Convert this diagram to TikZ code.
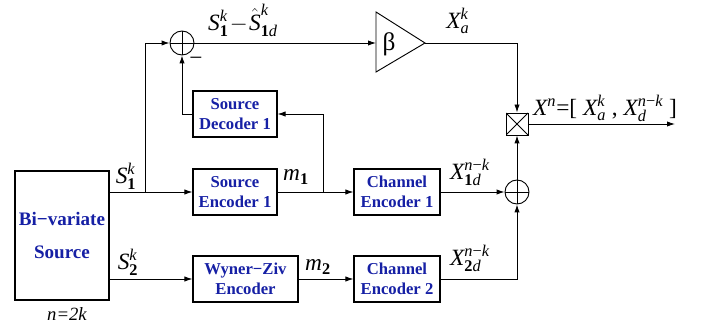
\documentclass[tikz,border=0pt]{standalone}
\usepackage{amsmath}
\usepackage{fontspec}
\setmainfont{Liberation Serif}
\usetikzlibrary{arrows.meta}
\definecolor{blkblue}{RGB}{22,32,165}
\newcommand\ti[1]{\text{\itshape #1}}
\newcommand\tb[1]{\text{\bfseries #1}}
\begin{document}
\begin{tikzpicture}[x=0.75pt,y=-0.75pt,line width=0.7pt,
  box/.style={draw, line width=0.8pt, fill=white, font=\fontsize{12.5}{15}\selectfont\bfseries, text=blkblue, align=center, inner sep=0pt},
  lab/.style={font=\fontsize{17.5}{20}\selectfont, inner sep=0pt},
  sumnode/.style={draw, circle, minimum size=24*0.75pt, inner sep=0pt,
    path picture={\draw (path picture bounding box.north) -- (path picture bounding box.south) (path picture bounding box.east) -- (path picture bounding box.west);}},
  mulnode/.style={draw, rectangle, minimum size=22*0.75pt, inner sep=0pt,
    path picture={\draw (path picture bounding box.north west) -- (path picture bounding box.south east) (path picture bounding box.north east) -- (path picture bounding box.south west);}},
  arr/.style={-{Latex[length=6pt,width=4pt]}}]
\useasboundingbox (0,0) rectangle (702,331);

% blocks
\node[box, minimum width=94*0.75pt, minimum height=129*0.75pt, font=\fontsize{14.3}{16}\selectfont\bfseries] (src) at (62,235.5) {\raisebox{-3pt}{Bi−variate}\\[12pt]Source\hspace{6.5pt}};
\node[box, minimum width=84*0.75pt, minimum height=46*0.75pt] (se1) at (235,192) {Source\\Encoder 1};
\node[box, minimum width=84*0.75pt, minimum height=46*0.75pt] (sd1) at (235,114) {Source\\Decoder 1};
\node[box, minimum width=86*0.75pt, minimum height=46*0.75pt] (ce1) at (397,192) {Channel\\Encoder 1};
\node[box, minimum width=86*0.75pt, minimum height=46*0.75pt] (ce2) at (397,279) {Channel\\Encoder 2};
\node[box, minimum width=105*0.75pt, minimum height=46*0.75pt] (wz) at (245.5,279) {Wyner−Ziv\\Encoder};

\node[sumnode] (sum1) at (182,43) {};
\node[sumnode] (sum2) at (517,192) {};
\node[mulnode] (mul) at (517,124) {};

% amplifier
\draw (376,12) -- (425,43) -- (376,72) -- cycle;
\coordinate (ampin) at (376,43);
\coordinate (ampout) at (425,43);
\node[font=\fontsize{19}{22}\selectfont, inner sep=0pt] (beta) at (389,44) {β};

% points
\coordinate (s1o) at (109,192);
\coordinate (s2o) at (109,279);
\coordinate (b1) at (145,192);
\coordinate (b2) at (323,192);
\coordinate (out) at (675,124);

% connectors
\draw[arr] (s1o) -- (se1.west);
\draw[arr] (b1) |- (sum1.west);
\draw[arr] (se1.east) -- (ce1.west);
\draw[arr] (b2) |- (sd1.east);
\draw[arr] (sd1.west) -| (sum1.south);
\draw[arr] (sum1.east) -- (ampin);
\draw[arr] (ampout) -| (mul.north);
\draw[arr] (ce1.east) -- (sum2.west);
\draw[arr] (ce2.east) -| (sum2.south);
\draw[arr] (sum2.north) -- (mul.south);
\draw[arr] (s2o) -- (wz.west);
\draw[arr] (wz.east) -- (ce2.west);
\draw[arr] (mul.east) -- (out);

% labels
\node[lab] (ldiff) at (243,20) {$\ti{S}^{\ti{k}}_{\tb{1}}\!-\!\hat{\ti{S}}^{\ti{k}}_{\tb{1}\ti{d}}$};
\node[lab] (lminus) at (196,61) {−};
\node[lab] (lxa) at (458,21) {$\ti{X}^{\ti{k}}_{\ti{a}}$};
\node[lab] (lxn) at (605,108) {$\ti{X}^{\ti{n}}\text{=[ }\ti{X}^{\ti{k}}_{\ti{a}}\text{ , }\ti{X}^{\ti{n}\text{−}\ti{k}}_{\ti{d}}\text{ ]}$};
\node[lab] (lx1) at (470,172) {$\ti{X}^{\ti{n}\text{−}\ti{k}}_{\tb{1}\ti{d}}$};
\node[lab] (lx2) at (470,258) {$\ti{X}^{\ti{n}\text{−}\ti{k}}_{\tb{2}\ti{d}}$};
\node[lab] (lm1) at (296,177) {$\ti{m}_{\tb{1}}$};
\node[lab] (lm2) at (318,267) {$\ti{m}_{\tb{2}}$};
\node[lab] (ls1) at (126,176) {$\ti{S}^{\ti{k}}_{\tb{1}}$};
\node[lab] (ls2) at (128,262) {$\ti{S}^{\ti{k}}_{\tb{2}}$};
\node[font=\fontsize{14}{16}\selectfont\itshape, inner sep=0pt] (ln) at (67,314) {n=2k};
\end{tikzpicture}
\end{document}
